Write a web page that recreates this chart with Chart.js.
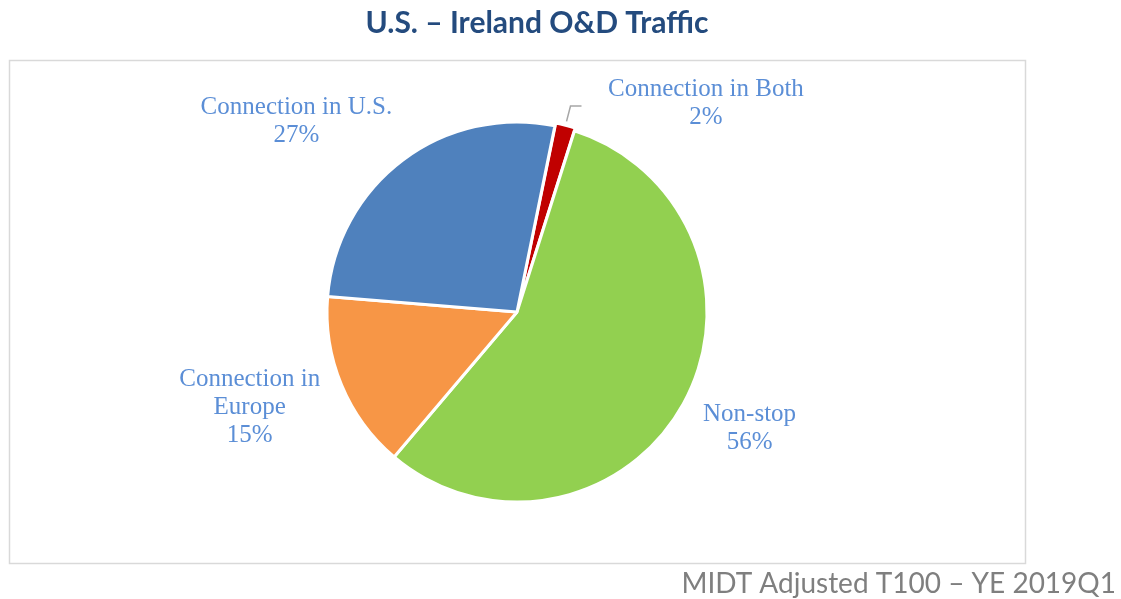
<!DOCTYPE html>
<html>
<head>
<meta charset="utf-8">
<title>U.S. – Ireland O&amp;D Traffic</title>
<script src="https://cdn.jsdelivr.net/npm/chart.js@4/dist/chart.umd.min.js"></script>
<style>
  html, body { margin: 0; padding: 0; background: #fff; }
  canvas { display: block; }
</style>
</head>
<body>
<canvas id="trafficPie" width="1121" height="599"></canvas>
<script>
"use strict";

var categories = ["Connection in Both", "Non-stop", "Connection in\nEurope", "Connection in U.S."];
var shares = [1.7, 56.3, 15.1, 26.9];
var sliceColors = ["#C00000", "#92D050", "#F79646", "#4F81BD"];
var sliceOffsets = [6, 0, 0, 0];
var titleText = "U.S. – Ireland O&D Traffic";
var sourceText = "MIDT Adjusted T100 – YE 2019Q1";

// where each label sits: nudge (deg) off the slice middle, distance as a share of the radius
var labelNudge = [27.3, -2.7, 3.3, -12];
var labelDist = [1.49, 1.365, 1.49, 1.54];
var leaderLine = [true, false, false, false];

var decorPlugin = {
  id: "decor",
  beforeDraw: function(chart) {
    var ctx = chart.ctx;
    ctx.save();
    ctx.strokeStyle = "#D9D9D9";
    ctx.lineWidth = 1.5;
    ctx.strokeRect(9.5, 60.5, 1016, 503);

    ctx.fillStyle = "#244B7E";
    ctx.font = "bold 30px Lato";
    ctx.textAlign = "center";
    ctx.textBaseline = "middle";
    ctx.fillText(titleText, 537, 23);

    ctx.fillStyle = "#7F7F7F";
    ctx.font = "28px Lato";
    ctx.textAlign = "right";
    ctx.textBaseline = "alphabetic";
    ctx.fillText(sourceText, 1116, 593);
    ctx.restore();
  },
  afterDatasetsDraw: function(chart) {
    var ctx = chart.ctx;
    var arcs = chart.getDatasetMeta(0).data;
    var lineHeight = 28;

    ctx.save();
    ctx.font = "25px 'Liberation Serif'";
    ctx.fillStyle = "#5B8ED6";
    ctx.textAlign = "center";
    ctx.textBaseline = "middle";

    arcs.forEach(function(arc, i) {
      var p = arc.getProps(["x", "y", "startAngle", "endAngle", "outerRadius"], true);
      var mid = (p.startAngle + p.endAngle) / 2;
      var a = mid + labelNudge[i] * Math.PI / 180;
      var d = p.outerRadius * labelDist[i];
      var cx = p.x + Math.cos(a) * d;
      var cy = p.y + Math.sin(a) * d + 2;
      var lines = categories[i].split("\n").concat([Math.round(shares[i]) + "%"]);

      lines.forEach(function(line, k) {
        ctx.fillText(line, cx, cy + (k - (lines.length - 1) / 2) * lineHeight);
      });

      if (leaderLine[i]) {
        var r0 = p.outerRadius + sliceOffsets[i] + 1;
        var r1 = p.outerRadius * 1.12;
        var ex = p.x + Math.cos(mid) * r1;
        var ey = p.y + Math.sin(mid) * r1;
        ctx.strokeStyle = "#A6A6A6";
        ctx.lineWidth = 1.5;
        ctx.beginPath();
        ctx.moveTo(p.x + Math.cos(mid) * r0, p.y + Math.sin(mid) * r0);
        ctx.lineTo(ex, ey);
        ctx.lineTo(ex + 11, ey);
        ctx.stroke();
      }
    });
    ctx.restore();
  }
};

new Chart(document.getElementById("trafficPie"), {
  type: "pie",
  data: {
    labels: categories,
    datasets: [{
      data: shares,
      backgroundColor: sliceColors,
      borderColor: "#FFFFFF",
      borderWidth: 3,
      offset: sliceOffsets
    }]
  },
  options: {
    responsive: false,
    animation: false,
    devicePixelRatio: 1,
    rotation: 11.5,
    layout: {
      padding: { left: 100, right: 187, top: 117.5, bottom: 92.5 }
    },
    plugins: {
      legend: { display: false },
      tooltip: { enabled: false }
    }
  },
  plugins: [decorPlugin]
});
</script>
</body>
</html>
